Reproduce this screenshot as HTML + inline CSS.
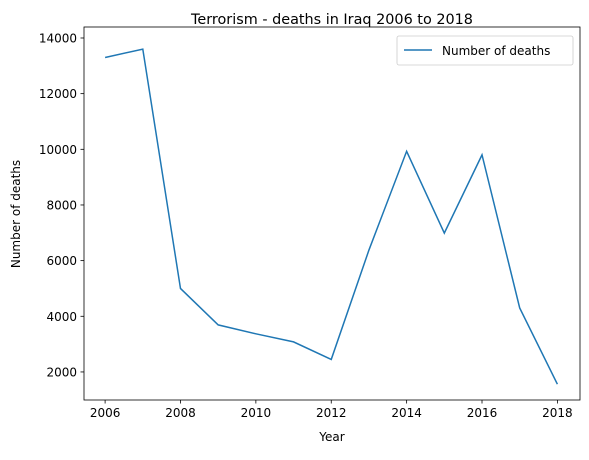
<!DOCTYPE html>
<html><head><meta charset="utf-8"><style>
body{margin:0;background:#fff;}
svg text{font-family:"DejaVu Sans","Liberation Sans",sans-serif;fill:#000;}
</style></head><body>
<svg id="chart" width="589" height="455" xmlns="http://www.w3.org/2000/svg">
<rect width="589" height="455" fill="#fff"/>
<text x="332" y="24" font-size="14.4" text-anchor="middle">Terrorism - deaths in Iraq 2006 to 2018</text>
<text x="332" y="441" font-size="12" text-anchor="middle">Year</text>
<text transform="translate(20,214) rotate(-90)" font-size="12" text-anchor="middle">Number of deaths</text>
<g id="ticks"></g>
<polyline id="series" fill="none" stroke="#1f77b4" stroke-width="1.5"/>
<rect x="84" y="27" width="496" height="373" fill="none" stroke="#000" stroke-width="0.8"/>
<g>
<rect x="397" y="36" width="176" height="29" rx="2" fill="#fff" stroke="#ccc" stroke-width="0.8"/>
<line x1="404" y1="50" x2="432" y2="50" stroke="#1f77b4" stroke-width="1.5"/>
<text x="442" y="55" font-size="12">Number of deaths</text>
</g>
</svg>
<script>
const years=[2006,2007,2008,2009,2010,2011,2012,2013,2014,2015,2016,2017,2018];
const deaths=[13300,13600,5000,3690,3370,3080,2450,6380,9930,6990,9800,4300,1560];
const xTicks=[2006,2008,2010,2012,2014,2016,2018];
const yTicks=[2000,4000,6000,8000,10000,12000,14000];
const L=84,R=580,T=27,B=400;
const xMin=2005.44,xMax=2018.6,yMin=992,yMax=14395;
const xs=v=>L+(v-xMin)/(xMax-xMin)*(R-L);
const ys=v=>B-(v-yMin)/(yMax-yMin)*(B-T);
const NS="http://www.w3.org/2000/svg";
const g=document.getElementById('ticks');
function mk(t,a){const e=document.createElementNS(NS,t);for(const k in a)e.setAttribute(k,a[k]);g.appendChild(e);return e;}
xTicks.forEach(v=>{const x=xs(v);
const l=mk('line',{x1:x,x2:x,y1:B,y2:B+3.5,stroke:'#000','stroke-width':0.8});


const t=mk('text',{x:x,y:B+17,'font-size':12,'text-anchor':'middle'});t.textContent=v;

});
yTicks.forEach(v=>{const y=ys(v);
const l=mk('line',{x1:L-3.5,x2:L,y1:y,y2:y,stroke:'#000','stroke-width':0.8});


const t=mk('text',{x:L-7,y:y+4.5,'font-size':12,'text-anchor':'end'});t.textContent=v;

});
document.getElementById('series').setAttribute('points',years.map((yr,i)=>xs(yr)+','+ys(deaths[i])).join(' '));
</script>
</body></html>
